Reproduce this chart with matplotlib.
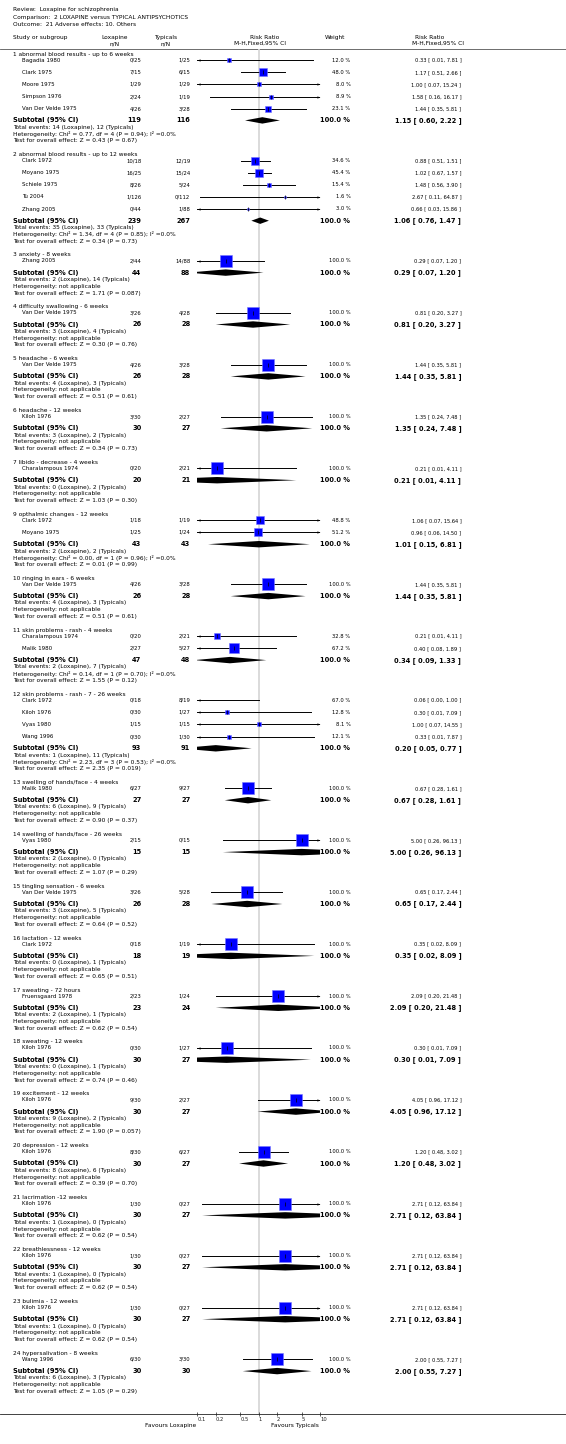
import numpy as np
import matplotlib
matplotlib.use("Agg")
import matplotlib.pyplot as plt
from matplotlib.path import Path

plt.rcParams['font.family'] = ['DejaVu Sans']

# %%
# Data
review_lines = ["Review:  Loxapine for schizophrenia",
                "Comparison:  2 LOXAPINE versus TYPICAL ANTIPSYCHOTICS",
                "Outcome:  21 Adverse effects: 10. Others"]

group_titles = ["1 abnormal blood results - up to 6 weeks",
                "2 abnormal blood results - up to 12 weeks",
                "3 anxiety - 8 weeks",
                "4 difficulty swallowing - 6 weeks",
                "5 headache - 6 weeks",
                "6 headache - 12 weeks",
                "7 libido - decrease - 4 weeks",
                "9 opthalmic changes - 12 weeks",
                "10 ringing in ears - 6 weeks",
                "11 skin problems - rash - 4 weeks",
                "12 skin problems - rash - 7 - 26 weeks",
                "13 swelling of hands/face - 4 weeks",
                "14 swelling of hands/face - 26 weeks",
                "15 tingling sensation - 6 weeks",
                "16 lactation - 12 weeks",
                "17 sweating - 72 hours",
                "18 sweating - 12 weeks",
                "19 excitement - 12 weeks",
                "20 depression - 12 weeks",
                "21 lacrimation -12 weeks",
                "22 breathlessness - 12 weeks",
                "23 bulimia - 12 weeks",
                "24 hypersalivation - 8 weeks"]

study_names = [["Bagadia 1980", "Clark 1975", "Moore 1975", "Simpson 1976", "Van Der Velde 1975"],
               ["Clark 1972", "Moyano 1975", "Schiele 1975", "Tu 2004", "Zhang 2005"],
               ["Zhang 2005"],
               ["Van Der Velde 1975"],
               ["Van Der Velde 1975"],
               ["Kiloh 1976"],
               ["Charalampous 1974"],
               ["Clark 1972", "Moyano 1975"],
               ["Van Der Velde 1975"],
               ["Charalampous 1974", "Malik 1980"],
               ["Clark 1972", "Kiloh 1976", "Vyas 1980", "Wang 1996"],
               ["Malik 1980"],
               ["Vyas 1980"],
               ["Van Der Velde 1975"],
               ["Clark 1972"],
               ["Fruensgaard 1978"],
               ["Kiloh 1976"],
               ["Kiloh 1976"],
               ["Kiloh 1976"],
               ["Kiloh 1976"],
               ["Kiloh 1976"],
               ["Kiloh 1976"],
               ["Wang 1996"]]

lox_events = [[0, 7, 1, 2, 4], [10, 16, 8, 1, 0], [2], [3], [4], [3], [0], [1, 1], [4],
              [0, 2], [0, 0, 1, 0], [6], [2], [3], [0], [2], [0], [9], [8], [1], [1], [1], [6]]
lox_total = [[25, 15, 29, 24, 26], [18, 25, 26, 126, 44], [44], [26], [26], [30], [20], [18, 25], [26],
             [20, 27], [18, 30, 15, 30], [27], [15], [26], [18], [23], [30], [30], [30], [30], [30], [30], [30]]
typ_events = [[1, 6, 1, 1, 3], [12, 15, 5, 0, 1], [14], [4], [3], [2], [2], [1, 1], [3],
              [2, 5], [8, 1, 1, 1], [9], [0], [5], [1], [1], [1], [2], [6], [0], [0], [0], [3]]
typ_total = [[25, 15, 29, 19, 28], [19, 24, 24, 112, 88], [88], [28], [28], [27], [21], [19, 24], [28],
             [21, 27], [19, 27, 15, 30], [27], [15], [28], [19], [24], [27], [27], [27], [27], [27], [27], [30]]

weights = [[12.0, 48.0, 8.0, 8.9, 23.1], [34.6, 45.4, 15.4, 1.6, 3.0], [100.0], [100.0], [100.0],
           [100.0], [100.0], [48.8, 51.2], [100.0], [32.8, 67.2], [67.0, 12.8, 8.1, 12.1],
           [100.0], [100.0], [100.0], [100.0], [100.0], [100.0], [100.0], [100.0], [100.0],
           [100.0], [100.0], [100.0]]
rr = [[0.33, 1.17, 1.00, 1.58, 1.44], [0.88, 1.02, 1.48, 2.67, 0.66], [0.29], [0.81], [1.44], [1.35],
      [0.21], [1.06, 0.96], [1.44], [0.21, 0.40], [0.06, 0.30, 1.00, 0.33], [0.67], [5.00], [0.65],
      [0.35], [2.09], [0.30], [4.05], [1.20], [2.71], [2.71], [2.71], [2.00]]
ci_lo = [[0.01, 0.51, 0.07, 0.16, 0.35], [0.51, 0.67, 0.56, 0.11, 0.03], [0.07], [0.20], [0.35], [0.24],
         [0.01], [0.07, 0.06], [0.35], [0.01, 0.08], [0.00, 0.01, 0.07, 0.01], [0.28], [0.26], [0.17],
         [0.02], [0.20], [0.01], [0.96], [0.48], [0.12], [0.12], [0.12], [0.55]]
ci_hi = [[7.81, 2.66, 15.24, 16.17, 5.81], [1.51, 1.57, 3.90, 64.87, 15.86], [1.20], [3.27], [5.81], [7.48],
         [4.11], [15.64, 14.50], [5.81], [4.11, 1.89], [1.00, 7.09, 14.55, 7.87], [1.61], [96.13], [2.44],
         [8.09], [21.48], [7.09], [17.12], [3.02], [63.84], [63.84], [63.84], [7.27]]

sub_rr = [1.15, 1.06, 0.29, 0.81, 1.44, 1.35, 0.21, 1.01, 1.44, 0.34, 0.20, 0.67, 5.00, 0.65,
          0.35, 2.09, 0.30, 4.05, 1.20, 2.71, 2.71, 2.71, 2.00]
sub_lo = [0.60, 0.76, 0.07, 0.20, 0.35, 0.24, 0.01, 0.15, 0.35, 0.09, 0.05, 0.28, 0.26, 0.17,
          0.02, 0.20, 0.01, 0.96, 0.48, 0.12, 0.12, 0.12, 0.55]
sub_hi = [2.22, 1.47, 1.20, 3.27, 5.81, 7.48, 4.11, 6.81, 5.81, 1.33, 0.77, 1.61, 96.13, 2.44,
          8.09, 21.48, 7.09, 17.12, 3.02, 63.84, 63.84, 63.84, 7.27]

heterogeneity = ["Chi² = 0.77, df = 4 (P = 0.94); I² =0.0%",
                 "Chi² = 1.34, df = 4 (P = 0.85); I² =0.0%",
                 "not applicable", "not applicable", "not applicable", "not applicable",
                 "not applicable",
                 "Chi² = 0.00, df = 1 (P = 0.96); I² =0.0%",
                 "not applicable",
                 "Chi² = 0.14, df = 1 (P = 0.70); I² =0.0%",
                 "Chi² = 2.23, df = 3 (P = 0.53); I² =0.0%",
                 "not applicable", "not applicable", "not applicable", "not applicable",
                 "not applicable", "not applicable", "not applicable", "not applicable",
                 "not applicable", "not applicable", "not applicable", "not applicable"]
z_values = ["0.43", "0.34", "1.71", "0.30", "0.51", "0.34", "1.03", "0.01", "0.51", "1.55", "2.35",
            "0.90", "1.07", "0.64", "0.65", "0.62", "0.74", "1.90", "0.39", "0.62", "0.62", "0.62", "1.05"]
p_values = ["0.67", "0.73", "0.087", "0.76", "0.61", "0.73", "0.30", "0.99", "0.61", "0.12", "0.019",
            "0.37", "0.29", "0.52", "0.51", "0.54", "0.46", "0.057", "0.70", "0.54", "0.54", "0.54", "0.29"]

tick_values = [0.1, 0.2, 0.5, 1, 2, 5, 10]
tick_labels = ["0.1", "0.2", "0.5", "1", "2", "5", "10"]

# %%
# Page layout (pixel units, y downwards)
W, H = 566, 1444
TOP_LINE, BOTTOM_LINE = 49, 1414.3
X_LEFT, X_RIGHT = 197.3, 320.0
X_NAME, X_INDENT = 12.7, 21.7
X_LOX, X_TYP, X_WT, X_CI = 141.3, 190.3, 350.5, 461.3

# arrowheads with the tip at the data point
arrow_left = Path([(0, 0), (2, 0.7), (2, -0.7), (0, 0)], [1, 2, 2, 79])
arrow_right = Path([(0, 0), (-2, 0.7), (-2, -0.7), (0, 0)], [1, 2, 2, 79])

fig = plt.figure(figsize=(W / 100, H / 100), dpi=100)
ax_t = fig.add_axes([0, 0, 1, 1])
ax_t.set_xlim(0, W)
ax_t.set_ylim(H, 0)
ax_t.axis('off')

ax_f = fig.add_axes([X_LEFT / W, (H - BOTTOM_LINE) / H, (X_RIGHT - X_LEFT) / W, (BOTTOM_LINE - TOP_LINE) / H])
ax_f.patch.set_visible(False)
ax_f.set_xscale('log')
ax_f.set_xlim(0.1, 10)
ax_f.set_ylim(BOTTOM_LINE, TOP_LINE)
for s in ax_f.spines.values():
    s.set_visible(False)
ax_f.set_yticks([])
ax_f.set_xticks(tick_values)
ax_f.set_xticklabels(tick_labels)
ax_f.minorticks_off()
ax_f.tick_params(axis='x', direction='inout', length=3, width=0.5, pad=0.6, labelsize=3.8, colors='#222222')
for lbl in ax_f.get_xticklabels():
    lbl.set_ha('left')
ax_f.axvline(1, color='#d8d8d8', lw=1.3, zorder=0)

# header
small, norm, bold = 3.8, 4.2, 4.8
for i, line in enumerate(review_lines):
    ax_t.text(X_NAME, 10 + 7.2 * i, line, fontsize=norm, va='center')
ax_t.text(X_NAME, 37.7, "Study or subgroup", fontsize=norm, va='center')
ax_t.text(114.2, 37.7, "Loxapine", fontsize=norm, va='center', ha='center')
ax_t.text(114.2, 43.7, "n/N", fontsize=norm, va='center', ha='center')
ax_t.text(166, 37.7, "Typicals", fontsize=norm, va='center', ha='center')
ax_t.text(166, 43.7, "n/N", fontsize=norm, va='center', ha='center')
ax_t.text(264.5, 37.7, "Risk Ratio", fontsize=norm, va='center', ha='center')
ax_t.text(260, 43.7, "M-H,Fixed,95% CI", fontsize=norm, va='center', ha='center')
ax_t.text(335, 37.7, "Weight", fontsize=norm, va='center', ha='center')
ax_t.text(430, 37.7, "Risk Ratio", fontsize=norm, va='center', ha='center')
ax_t.text(437.5, 43.7, "M-H,Fixed,95% CI", fontsize=norm, va='center', ha='center')
ax_t.axhline(TOP_LINE, color='#555555', lw=0.6)
ax_t.axhline(BOTTOM_LINE, color='#222222', lw=0.6)

# %%
# Groups
y = 54.3
for g, title in enumerate(group_titles):
    ax_t.text(X_NAME, y, title, fontsize=norm, va='center')
    n = len(study_names[g])
    for i in range(n):
        ys = y + 6 + 12.1 * i
        ax_t.text(X_INDENT, ys, study_names[g][i], fontsize=4.0, va='center')
        ax_t.text(X_LOX, ys, f"{lox_events[g][i]}/{lox_total[g][i]}", fontsize=small, va='center', ha='right')
        ax_t.text(X_TYP, ys, f"{typ_events[g][i]}/{typ_total[g][i]}", fontsize=small, va='center', ha='right')
        ax_t.text(X_WT, ys, f"{weights[g][i]:.1f} %", fontsize=small, va='center', ha='right')
        ax_t.text(X_CI, ys, f"{rr[g][i]:.2f} [ {ci_lo[g][i]:.2f}, {ci_hi[g][i]:.2f} ]",
                  fontsize=3.7, va='center', ha='right')
        lo = max(ci_lo[g][i], 0.1)
        hi = min(ci_hi[g][i], 10)
        ax_f.plot([lo, hi], [ys, ys], color='k', lw=0.7, zorder=2)
        if ci_lo[g][i] < 0.1:
            ax_f.plot([lo], [ys], marker=arrow_left, ms=4.5, mew=0, color='k', clip_on=False, zorder=2)
        if ci_hi[g][i] > 10:
            ax_f.plot([hi], [ys], marker=arrow_right, ms=4.5, mew=0, color='k', clip_on=False, zorder=2)
        side = 12 * np.sqrt(weights[g][i] / 100) * 0.72
        ax_f.scatter([rr[g][i]], [ys], marker='s', s=side ** 2, color='#0000ff',
                     edgecolors='#7777ff', linewidths=0.4, zorder=3)
        ax_f.plot([rr[g][i]], [ys], marker='|', ms=2.5, mew=0.5, color='k', zorder=4)

    ysub = y + 6 + 12.1 * (n - 1) + 11.7
    ax_t.text(X_NAME, ysub, "Subtotal (95% CI)", fontsize=bold, fontweight='bold', va='center')
    ax_t.text(X_LOX, ysub, str(sum(lox_total[g])), fontsize=bold, fontweight='bold', va='center', ha='right')
    ax_t.text(X_TYP, ysub, str(sum(typ_total[g])), fontsize=bold, fontweight='bold', va='center', ha='right')
    ax_t.text(X_WT, ysub, "100.0 %", fontsize=bold, fontweight='bold', va='center', ha='right', zorder=5)
    ax_t.text(X_CI, ysub, f"{sub_rr[g]:.2f} [ {sub_lo[g]:.2f}, {sub_hi[g]:.2f} ]",
              fontsize=bold, fontweight='bold', va='center', ha='right')
    hd = 3.2
    ax_f.fill([sub_lo[g], sub_rr[g], sub_hi[g], sub_rr[g]], [ysub, ysub - hd, ysub, ysub + hd],
              color='k', lw=0, zorder=3)

    info = [f"Total events: {sum(lox_events[g])} (Loxapine), {sum(typ_events[g])} (Typicals)",
            f"Heterogeneity: {heterogeneity[g]}",
            f"Test for overall effect: Z = {z_values[g]} (P = {p_values[g]})"]
    for k, line in enumerate(info):
        ax_t.text(X_NAME, ysub + 6.8 * (k + 1), line, fontsize=norm, va='center')

    y = y + 51.9 + 12.1 * (n - 1)

ax_t.text(196.7, 1425.3, "Favours Loxapine", fontsize=norm, va='center', ha='right')
ax_t.text(270.7, 1425.3, "Favours Typicals", fontsize=norm, va='center', ha='left')

fig.savefig("out.png", dpi=100)
